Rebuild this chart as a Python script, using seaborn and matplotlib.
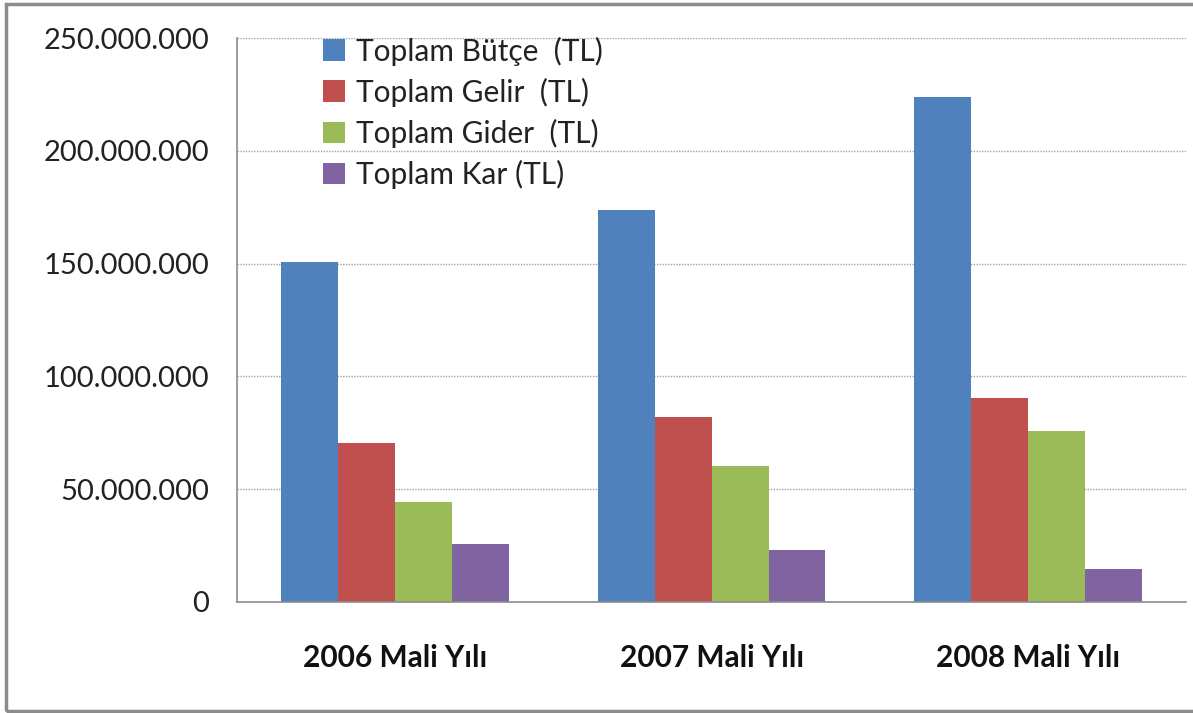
import pandas as pd
import matplotlib
matplotlib.use("Agg")
import matplotlib.pyplot as plt
import seaborn as sns
from matplotlib.ticker import FuncFormatter, FixedLocator
from matplotlib.patches import Rectangle

# values
years = ["2006 Mali Yılı", "2007 Mali Yılı", "2008 Mali Yılı"]
series = ["Toplam Bütçe  (TL)", "Toplam Gelir  (TL)", "Toplam Gider  (TL)", "Toplam Kar (TL)"]
butce = [150500000, 173800000, 223700000]
gelir = [70500000, 82000000, 90400000]
gider = [44300000, 60200000, 75800000]
kar = [25700000, 23000000, 14600000]
colors = ["#4F81BD", "#C0504D", "#9BBB59", "#8064A2"]

rows = []
for name, vals in zip(series, [butce, gelir, gider, kar]):
    for yr, v in zip(years, vals):
        rows.append({"yil": yr, "seri": name, "deger": v})
df = pd.DataFrame(rows)

sns.set_style("white")
plt.rcParams['font.family'] = ['Lato', 'DejaVu Sans']

fig = plt.figure(figsize=(11.93, 7.13), dpi=100)
ax = fig.add_axes([0.1987, 0.1557, 0.7955, 0.7910])

sns.barplot(data=df, x="yil", y="deger", hue="seri", order=years, hue_order=series,
            palette=colors, width=0.72, gap=0, saturation=1, ax=ax, errorbar=None,
            linewidth=0)

ax.set_ylim(0, 250000000)
ax.set_xlim(-0.5, 2.5)
ax.yaxis.set_major_formatter(FuncFormatter(lambda v, p: f"{v:,.0f}".replace(",", ".")))
ax.set_yticks([0, 50000000, 100000000, 150000000, 200000000, 250000000])
ax.grid(axis="y", color="#a0a0a0", linestyle=(0, (1, 1)), linewidth=1)
ax.set_axisbelow(True)
ax.set_xlabel("")
ax.set_ylabel("")

for s in ["top", "right"]:
    ax.spines[s].set_visible(False)
for s in ["left", "bottom"]:
    ax.spines[s].set_color("#8c8c8c")
    ax.spines[s].set_linewidth(1.2)

ax.tick_params(axis="y", length=6, color="#8c8c8c", labelsize=21, labelcolor="#222222", pad=14)
ax.tick_params(axis="x", which="major", length=0, pad=30)
ax.xaxis.set_minor_locator(FixedLocator([-0.5, 0.5, 1.5, 2.5]))
ax.tick_params(axis="x", which="minor", length=10, color="#8c8c8c", width=1.2)
for lbl in ax.get_xticklabels():
    lbl.set_fontweight("bold")
    lbl.set_fontsize(21.5)
    lbl.set_color("#111111")

leg = ax.legend(loc="upper left", bbox_to_anchor=(0.062, 1.05), frameon=False,
                fontsize=21.5, handlelength=0.75, handleheight=0.75, handletextpad=0.35,
                labelspacing=0.4)
for t in leg.get_texts():
    t.set_color("#222222")

# outer chart frame
fig.patches.append(Rectangle((0.005, 0.003), 1.2, 0.992, transform=fig.transFigure,
                             fill=False, edgecolor="#8c8c8c", linewidth=2.5))

fig.savefig("out.png", dpi=100)
